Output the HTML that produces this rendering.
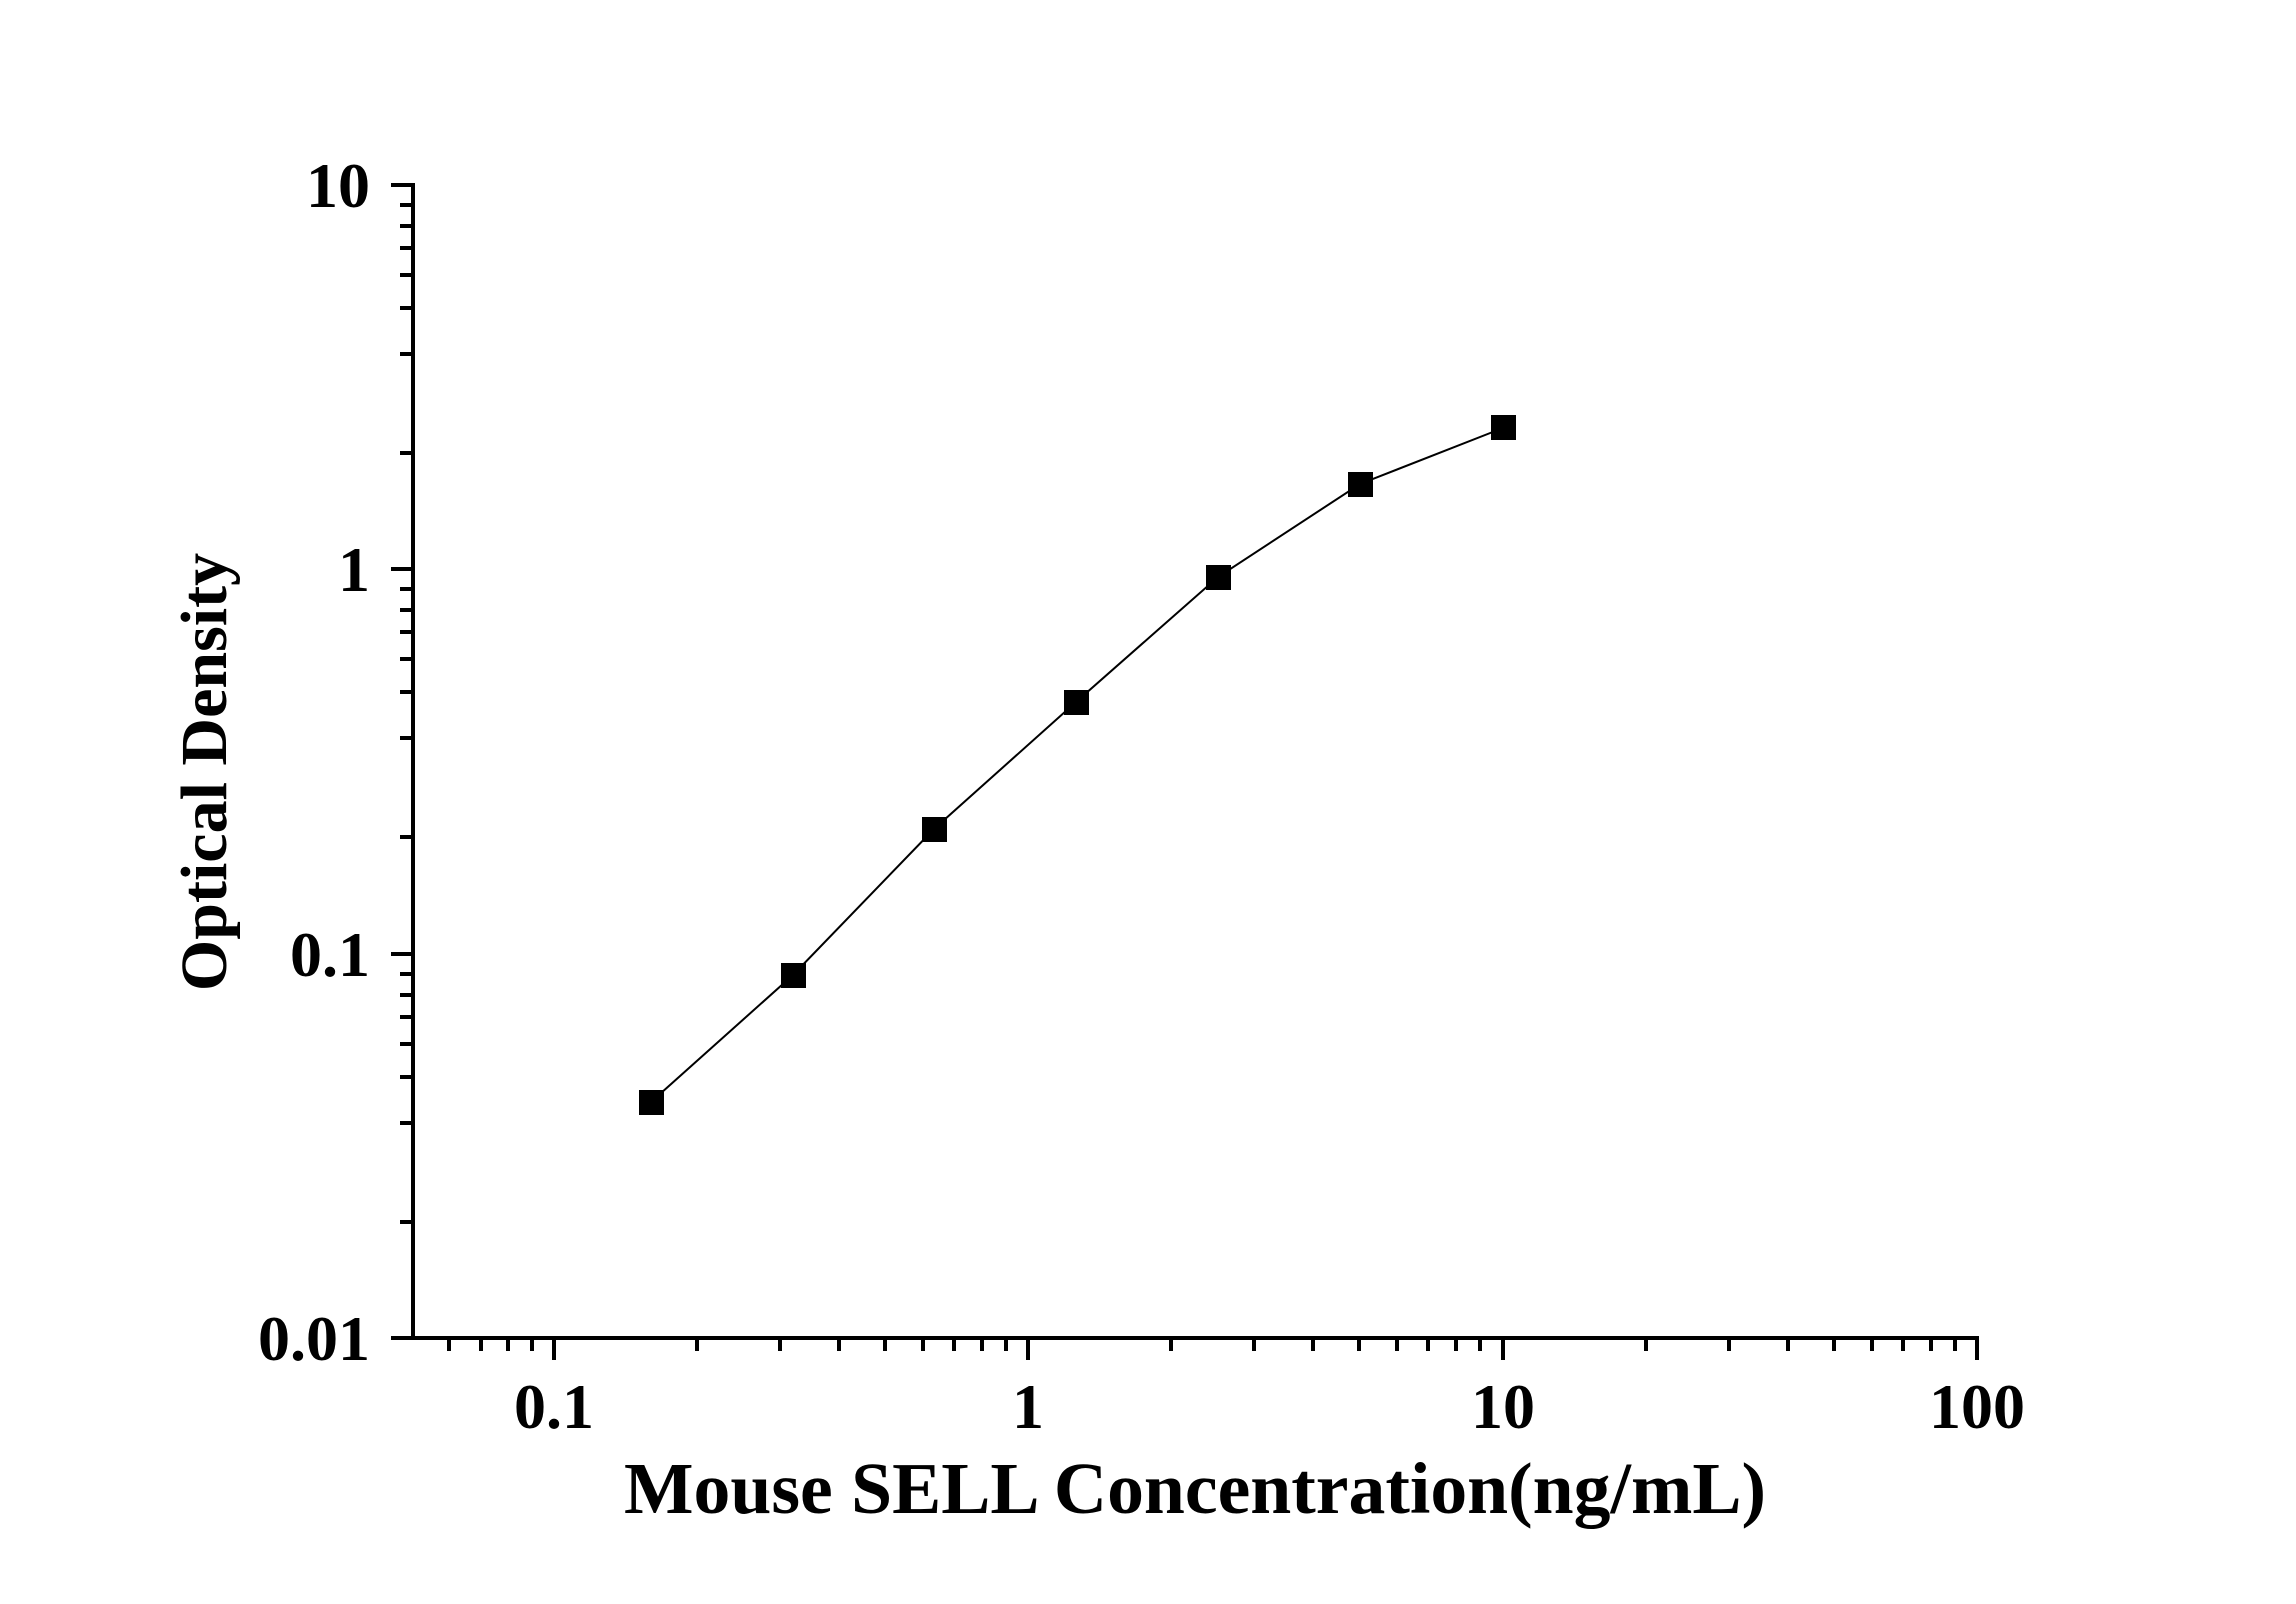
<!DOCTYPE html>
<html><head><style>html,body{margin:0;padding:0;background:#fff}svg{display:block}</style></head>
<body>
<svg width="2296" height="1604" viewBox="0 0 2296 1604" xmlns="http://www.w3.org/2000/svg" font-family="Liberation Serif, serif" font-weight="bold">
<rect width="2296" height="1604" fill="#fff"/>
<g stroke="#000" stroke-width="4" fill="none">
<line x1="413" y1="183" x2="413" y2="1340"/>
<line x1="411" y1="1338" x2="1979" y2="1338"/>
<line x1="391" y1="185" x2="413" y2="185"/>
<line x1="391" y1="569" x2="413" y2="569"/>
<line x1="391" y1="954" x2="413" y2="954"/>
<line x1="391" y1="1338" x2="413" y2="1338"/>
<g id="ym">
<line x1="400" y1="205" x2="413" y2="205"/>
<line x1="400" y1="226" x2="413" y2="226"/>
<line x1="400" y1="248" x2="413" y2="248"/>
<line x1="400" y1="275" x2="413" y2="275"/>
<line x1="400" y1="308" x2="413" y2="308"/>
<line x1="400" y1="354" x2="413" y2="354"/>
<line x1="400" y1="453" x2="413" y2="453"/>
</g>
<use href="#ym" y="384"/>
<use href="#ym" y="769"/>
<line x1="554" y1="1338" x2="554" y2="1360"/>
<line x1="1028" y1="1338" x2="1028" y2="1360"/>
<line x1="1503" y1="1338" x2="1503" y2="1360"/>
<line x1="1977" y1="1338" x2="1977" y2="1360"/>
<line x1="449" y1="1338" x2="449" y2="1351"/>
<line x1="481" y1="1338" x2="481" y2="1351"/>
<line x1="508" y1="1338" x2="508" y2="1351"/>
<line x1="532" y1="1338" x2="532" y2="1351"/>
<g id="xm">
<line x1="697" y1="1338" x2="697" y2="1351"/>
<line x1="780" y1="1338" x2="780" y2="1351"/>
<line x1="839" y1="1338" x2="839" y2="1351"/>
<line x1="885" y1="1338" x2="885" y2="1351"/>
<line x1="923" y1="1338" x2="923" y2="1351"/>
<line x1="954" y1="1338" x2="954" y2="1351"/>
<line x1="982" y1="1338" x2="982" y2="1351"/>
<line x1="1006" y1="1338" x2="1006" y2="1351"/>
</g>
<use href="#xm" x="474"/>
<use href="#xm" x="949"/>
</g>
<polyline fill="none" stroke="#000" stroke-width="2" points="651,1102 793,975 934,829 1076,702 1218,577 1360,484 1503,428"/>
<g fill="#000">
<rect x="639" y="1090" width="25" height="25"/>
<rect x="781" y="963" width="25" height="25"/>
<rect x="922" y="817" width="25" height="25"/>
<rect x="1064" y="690" width="25" height="25"/>
<rect x="1206" y="565" width="25" height="25"/>
<rect x="1348" y="472" width="25" height="25"/>
<rect x="1491" y="415" width="25" height="25"/>
</g>
<g font-size="64" text-anchor="end">
<text x="370" y="207">10</text>
<text x="370" y="591">1</text>
<text x="370" y="976">0.1</text>
<text x="370" y="1360">0.01</text>
</g>
<g font-size="64" text-anchor="middle">
<text x="554" y="1428">0.1</text>
<text x="1028" y="1428">1</text>
<text x="1503" y="1428">10</text>
<text x="1977" y="1428">100</text>
</g>
<text x="624" y="1513" font-size="73" textLength="1142" lengthAdjust="spacingAndGlyphs">Mouse SELL Concentration(ng/mL)</text>
<text transform="translate(226,772) rotate(-90)" font-size="66" text-anchor="middle">Optical Density</text>
</svg>
</body></html>
